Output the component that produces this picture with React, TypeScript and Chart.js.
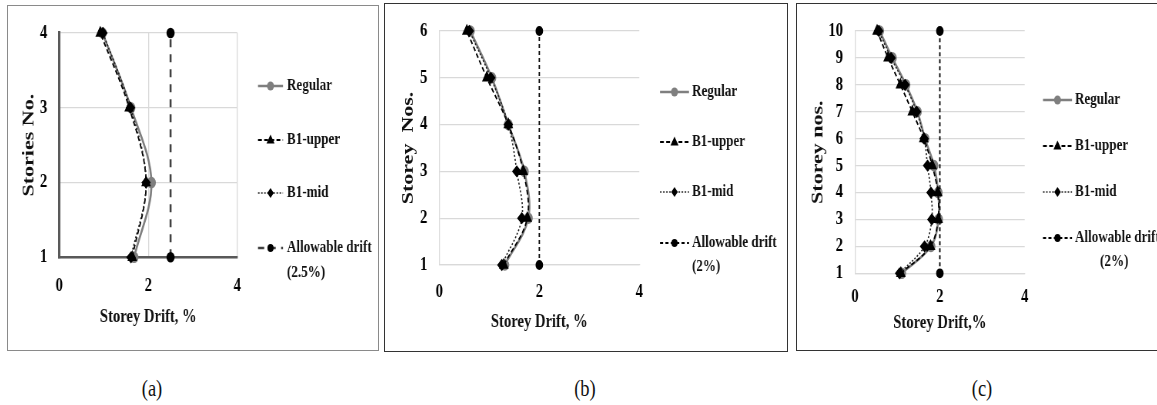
import React, { useEffect, useRef } from "react";
import { Chart, registerables } from "chart.js";

Chart.register(...registerables);

// ---------------- data ----------------
const storeysA = [1, 2, 3, 4];
const regularA = [1.68, 2.07, 1.61, 0.97];
const upperA = [1.64, 1.95, 1.57, 0.92];
const midA = [1.61, 1.95, 1.6, 0.98];
const allowA = 2.5;

const storeysB = [1, 2, 3, 4, 5, 6];
const regularB = [1.31, 1.78, 1.7, 1.38, 1.05, 0.62];
const upperB = [1.29, 1.76, 1.68, 1.38, 0.95, 0.55];
const midB = [1.25, 1.65, 1.55, 1.38, 1.03, 0.6];
const allowB = 2;

const storeysC = [1, 2, 3, 4, 5, 6, 7, 8, 9, 10];
const regularC = [1.1, 1.79, 1.97, 1.96, 1.86, 1.65, 1.47, 1.2, 0.88, 0.58];
const upperC = [1.08, 1.78, 1.96, 1.95, 1.82, 1.62, 1.35, 1.07, 0.78, 0.52];
const midC = [1.05, 1.64, 1.81, 1.79, 1.71, 1.63, 1.45, 1.18, 0.85, 0.56];
const allowC = 2;

const seriesNames = ["Regular", "B1-upper", "B1-mid", "Allowable drift"];
const allowNotes = ["(2.5%)", "(2%)", "(2%)"];
const yTitles = ["Stories No.", "Storey  Nos.", "Storey nos."];
const xTitles = ["Storey Drift, %", "Storey Drift, %", "Storey Drift,%"];
const captions = ["(a)", "(b)", "(c)"];
const xMin = 0;
const xMax = 4;
const xStep = 2;

// ---------------- styling ----------------
const S = 0.77; // horizontal condensation of the whole figure
const FONT = '"Liberation Serif", "Times New Roman", serif';

function drawMarker(ctx: CanvasRenderingContext2D, style: string, x: number, y: number, r: number, color: string) {
  ctx.save();
  ctx.setLineDash([]);
  ctx.fillStyle = color;
  ctx.beginPath();
  if (style === "circle") {
    ctx.arc(x, y, r, 0, Math.PI * 2);
  } else if (style === "triangle") {
    ctx.moveTo(x, y - r);
    ctx.lineTo(x + r * 0.95, y + r * 0.65);
    ctx.lineTo(x - r * 0.95, y + r * 0.65);
    ctx.closePath();
  } else {
    ctx.moveTo(x, y - r);
    ctx.lineTo(x + r * 0.85, y);
    ctx.lineTo(x, y + r);
    ctx.lineTo(x - r * 0.85, y);
    ctx.closePath();
  }
  ctx.fill();
  ctx.restore();
}

type PanelProps = {
  box: { left: number; top: number; w: number; h: number; color: string };
  canvas: { left: number; top: number; w: number; h: number };
  plot: { l: number; r: number; t: number; b: number };
  storeys: number[];
  regular: number[];
  upper: number[];
  mid: number[];
  allow: number;
  idx: number;
  dark: boolean;
  yTitleX: number;
  xTitleY: number;
  xTickY: number;
  legend: { x0: number; x1: number; tx: number; ys: number[]; ex: number };
};

function Panel(p: PanelProps) {
  const ref = useRef<HTMLCanvasElement>(null);
  const Wi = Math.round(p.canvas.w / S);
  const H = p.canvas.h;

  useEffect(() => {
    const sx = (px: number) => (px - p.canvas.left) / S;
    const sy = (py: number) => py - p.canvas.top;
    const L = sx(p.plot.l);
    const R = sx(p.plot.r);
    const T = sy(p.plot.t);
    const B = sy(p.plot.b);
    const tickSize = 19;
    const xTitleSize = 19;
    const yTitleSize = 22;
    const legendSize = 17;
    const xTickPad = sy(p.xTickY) - B - (tickSize * 1.2) / 2;
    const xTitlePad = H - sy(p.xTitleY) - (xTitleSize * 1.2) / 2;
    const yTitlePad = sx(p.yTitleX) - (yTitleSize * 1.2) / 2;
    const yTickPad = 12 / S;
    const lg = {
      x0: sx(p.legend.x0),
      x1: sx(p.legend.x1),
      tx: sx(p.legend.tx),
      ex: sx(p.legend.ex),
      ys: p.legend.ys.map(sy),
    };
    const mk = (xs: number[], ys: number[]) => xs.map((x, i) => ({ x, y: ys[i] }));
    const yMin = p.storeys[0];
    const yMax = p.storeys[p.storeys.length - 1];
    const grid = "#d9d9d9";
    const axisDark = "#595959";

    const legendPlugin = {
      id: "customLegend",
      afterDraw(chart: any) {
        const ctx: CanvasRenderingContext2D = chart.ctx;
        chart.data.datasets.forEach((ds: any, i: number) => {
          const y = lg.ys[i];
          ctx.save();
          ctx.strokeStyle = ds.borderColor;
          ctx.lineWidth = ds.borderWidth;
          ctx.setLineDash(ds.borderDash || []);
          ctx.beginPath();
          ctx.moveTo(lg.x0, y);
          ctx.lineTo(lg.x1, y);
          ctx.stroke();
          drawMarker(ctx, ds.pointStyle, (lg.x0 + lg.x1) / 2, y, ds.pointRadius, ds.pointBackgroundColor);
          ctx.fillStyle = "#111";
          ctx.font = `bold ${legendSize}px ${FONT}`;
          ctx.textBaseline = "middle";
          ctx.textAlign = "left";
          ctx.fillText(ds.label, lg.tx, y);
          ctx.restore();
        });
        ctx.save();
        ctx.fillStyle = "#111";
        ctx.font = `bold ${legendSize}px ${FONT}`;
        ctx.textBaseline = "middle";
        ctx.textAlign = "left";
        ctx.fillText(allowNotes[p.idx], lg.ex, lg.ys[4]);
        ctx.restore();
      },
    };

    const chart = new Chart(ref.current as HTMLCanvasElement, {
      type: "scatter",
      data: {
        datasets: [
          {
            label: seriesNames[0],
            data: mk(p.regular, p.storeys),
            showLine: true,
            borderColor: "#7f7f7f",
            backgroundColor: "#7f7f7f",
            pointBackgroundColor: "#7f7f7f",
            pointBorderColor: "#7f7f7f",
            borderWidth: 2.6,
            pointStyle: "circle",
            pointRadius: 4.5,
            tension: 0.35,
            order: 4,
            clip: false,
          } as any,
          {
            label: seriesNames[1],
            data: mk(p.upper, p.storeys),
            showLine: true,
            borderColor: "#000",
            backgroundColor: "#000",
            pointBackgroundColor: "#000",
            pointBorderColor: "#000",
            borderWidth: 1.8,
            borderDash: [5, 3],
            pointStyle: "triangle",
            pointRadius: 5.5,
            tension: 0.35,
            order: 3,
            clip: false,
          },
          {
            label: seriesNames[2],
            data: mk(p.mid, p.storeys),
            showLine: true,
            borderColor: "#222",
            backgroundColor: "#000",
            pointBackgroundColor: "#000",
            pointBorderColor: "#000",
            borderWidth: 1.6,
            borderDash: [2, 2],
            pointStyle: "rectRot",
            pointRadius: 5,
            tension: 0.35,
            order: 2,
            clip: false,
          },
          {
            label: seriesNames[3],
            data: [
              { x: p.allow, y: yMin },
              { x: p.allow, y: yMax },
            ],
            showLine: true,
            borderColor: p.dark ? "#404040" : "#000",
            backgroundColor: "#000",
            pointBackgroundColor: "#000",
            pointBorderColor: "#000",
            borderWidth: p.dark ? 2.6 : 1.8,
            borderDash: p.dark ? [8, 7] : [4, 3],
            pointStyle: "circle",
            pointRadius: 4,
            order: 1,
            clip: false,
          },
        ],
      },
      options: {
        responsive: false,
        animation: false,
        devicePixelRatio: 1,
        layout: { padding: { left: 0, top: T, right: Wi - R, bottom: 0 } },
        plugins: { legend: { display: false }, tooltip: { enabled: false }, title: { display: false } },
        scales: {
          x: {
            type: "linear",
            min: xMin,
            max: xMax,
            afterFit: (s: any) => {
              s.height = H - B;
            },
            ticks: {
              stepSize: xStep,
              padding: xTickPad,
              color: "#000",
              font: { family: FONT, size: tickSize, weight: "bold" },
            },
            grid: { display: p.dark, color: grid, lineWidth: 1.3, drawTicks: false },
            border: { color: p.dark ? axisDark : grid, width: p.dark ? 2.6 : 1.3 },
            title: {
              display: true,
              text: xTitles[p.idx],
              color: "#111",
              font: { family: FONT, size: xTitleSize, weight: "bold" },
              padding: { top: 0, bottom: xTitlePad },
            },
          },
          y: {
            type: "linear",
            min: yMin,
            max: yMax,
            afterFit: (s: any) => {
              s.width = L;
            },
            ticks: {
              stepSize: 1,
              padding: yTickPad,
              color: "#000",
              font: { family: FONT, size: tickSize, weight: "bold" },
            },
            grid: { color: grid, lineWidth: 1.3, drawTicks: false },
            border: { color: p.dark ? axisDark : grid, width: p.dark ? 3 : 1.3 },
            title: {
              display: true,
              text: yTitles[p.idx],
              color: "#111",
              font: { family: FONT, size: yTitleSize, weight: "bold" },
              padding: { top: yTitlePad, bottom: 0 },
            },
          },
        },
      } as any,
      plugins: [legendPlugin],
    });
    return () => chart.destroy();
  }, []);

  return (
    <>
      <div
        style={{
          position: "absolute",
          left: p.box.left,
          top: p.box.top,
          width: p.box.w,
          height: p.box.h,
          border: `1px solid ${p.box.color}`,
          boxSizing: "border-box",
        }}
      />
      <div
        style={{
          position: "absolute",
          left: p.canvas.left,
          top: p.canvas.top,
          width: Wi,
          height: H,
          transform: `scaleX(${S})`,
          transformOrigin: "0 0",
        }}
      >
        <canvas ref={ref} width={Wi} height={H} style={{ display: "block", width: Wi, height: H }} />
      </div>
    </>
  );
}

export default function App() {
  const captionX = [152, 585, 982];
  return (
    <div
      style={{
        position: "absolute",
        left: 0,
        top: 0,
        width: 1157,
        height: 405,
        overflow: "hidden",
        background: "#fff",
      }}
    >
      <Panel
        idx={0}
        dark={true}
        box={{ left: 7, top: 5, w: 372, h: 346, color: "#8a8a8a" }}
        canvas={{ left: 8, top: 6, w: 370, h: 344 }}
        plot={{ l: 59.3, r: 237.3, t: 26.7, b: 257.3 }}
        storeys={storeysA}
        regular={regularA}
        upper={upperA}
        mid={midA}
        allow={allowA}
        yTitleX={29}
        xTitleY={316.7}
        xTickY={286}
        legend={{ x0: 258, x1: 283, tx: 287, ys: [86, 140, 193, 248, 273], ex: 287 }}
      />
      <Panel
        idx={1}
        dark={false}
        box={{ left: 384, top: 3, w: 404, h: 349, color: "#333" }}
        canvas={{ left: 385, top: 4, w: 402, h: 347 }}
        plot={{ l: 439.3, r: 639.3, t: 23.3, b: 265 }}
        storeys={storeysB}
        regular={regularB}
        upper={upperB}
        mid={midB}
        allow={allowB}
        yTitleX={408}
        xTitleY={321.7}
        xTickY={291.7}
        legend={{ x0: 660, x1: 689, tx: 692, ys: [92, 142, 192, 243, 267], ex: 692 }}
      />
      <Panel
        idx={2}
        dark={false}
        box={{ left: 796, top: 3, w: 380, h: 348, color: "#333" }}
        canvas={{ left: 797, top: 4, w: 378, h: 346 }}
        plot={{ l: 855, r: 1024.7, t: 21.7, b: 273.3 }}
        storeys={storeysC}
        regular={regularC}
        upper={upperC}
        mid={midC}
        allow={allowC}
        yTitleX={818}
        xTitleY={322.7}
        xTickY={296.7}
        legend={{ x0: 1043, x1: 1072, tx: 1075, ys: [100, 146, 192, 238, 262], ex: 1100 }}
      />
      {captions.map((c, i) => (
        <div
          key={c}
          style={{
            position: "absolute",
            left: captionX[i] - 30,
            width: 60,
            top: 375,
            height: 26,
            lineHeight: "26px",
            textAlign: "center",
            fontFamily: FONT,
            fontSize: 24,
            color: "#111",
            transform: `scaleX(${S})`,
          }}
        >
          {c}
        </div>
      ))}
    </div>
  );
}
